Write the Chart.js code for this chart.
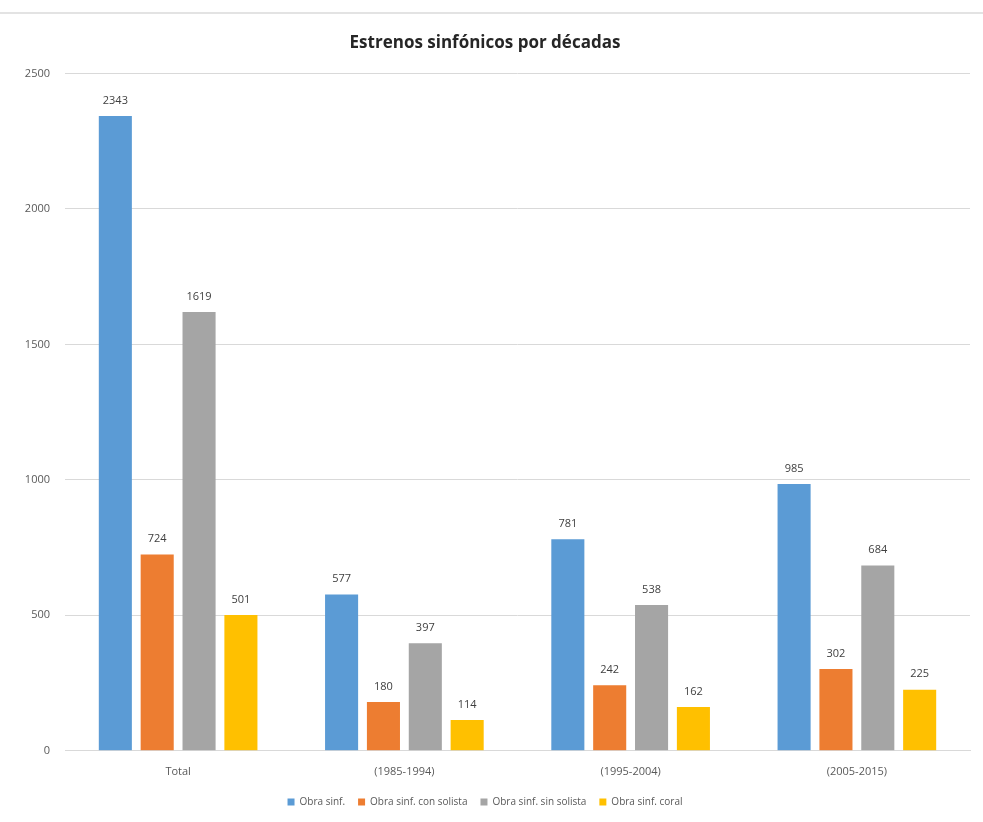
<!DOCTYPE html>
<html>
<head>
<meta charset="utf-8">
<title>Estrenos sinfónicos por décadas</title>
<script src="https://cdn.jsdelivr.net/npm/chart.js@4.4.1/dist/chart.umd.min.js"></script>
<style>
    html, body { margin: 0; padding: 0; background: #fff; }
    #wrap { position: relative; width: 983px; height: 822px; }
    #topLine { position: absolute; left: 0; right: 0; top: 12px; border-top: 2px solid #e3e3e3; }
</style>
</head>
<body>
<div id="wrap">
    <div id="topLine"></div>
    <canvas id="decadasChart" width="983" height="822"></canvas>
</div>
<script>
const periodos = ['Total', '(1985-1994)', '(1995-2004)', '(2005-2015)'];
const obraSinf = [2343, 577, 781, 985];
const obraConSolista = [724, 180, 242, 302];
const obraSinSolista = [1619, 397, 538, 684];
const obraCoral = [501, 114, 162, 225];
const yTicks = [0, 500, 1000, 1500, 2000, 2500];

const FONT = '"Open Sans", "Liberation Sans", sans-serif';

// writes each bar's value just above it
const valueLabels = {
    id: 'valueLabels',
    afterDatasetsDraw(chart) {
        const ctx = chart.ctx;
        ctx.save();
        ctx.font = '11px ' + FONT;
        ctx.fillStyle = '#404040';
        ctx.textAlign = 'center';
        ctx.textBaseline = 'bottom';
        chart.data.datasets.forEach((ds, i) => {
            chart.getDatasetMeta(i).data.forEach((bar, j) => {
                ctx.fillText(ds.data[j], bar.x, bar.y - 10);
            });
        });
        ctx.restore();
    }
};

const ctx = document.getElementById('decadasChart').getContext('2d');
const decadasChart = new Chart(ctx, {
    type: 'bar',
    data: {
        labels: periodos,
        datasets: [
            { label: 'Obra sinf.', data: obraSinf, backgroundColor: '#5b9bd5' },
            { label: 'Obra sinf. con solista', data: obraConSolista, backgroundColor: '#ed7d31' },
            { label: 'Obra sinf. sin solista', data: obraSinSolista, backgroundColor: '#a5a5a5' },
            { label: 'Obra sinf. coral', data: obraCoral, backgroundColor: '#ffc000' }
        ]
    },
    options: {
        responsive: false,
        animation: false,
        categoryPercentage: 0.74,
        barPercentage: 0.79,
        layout: { padding: { left: 0, right: 13, top: 0, bottom: 5 } },
        plugins: {
            title: {
                display: true,
                text: 'Estrenos sinfónicos por décadas',
                color: '#262626',
                font: { family: FONT, size: 17, weight: 'bold' },
                padding: { top: 33, bottom: 20 }
            },
            legend: {
                position: 'bottom',
                labels: {
                    boxWidth: 7,
                    boxHeight: 7,
                    color: '#595959',
                    font: { family: FONT, size: 10 },
                    padding: 13
                }
            },
            tooltip: { enabled: false }
        },
        scales: {
            x: {
                grid: { display: false },
                border: { color: '#d9d9d9' },
                ticks: { color: '#595959', font: { family: FONT, size: 11 }, padding: 6 }
            },
            y: {
                min: 0,
                max: 2500,
                afterBuildTicks(scale) {
                    scale.ticks = yTicks.map(v => ({ value: v }));
                },
                afterFit(scale) { scale.width = 65; },
                grid: { color: '#d9d9d9', drawTicks: false },
                border: { display: false },
                ticks: {
                    color: '#595959',
                    font: { family: FONT, size: 11 },
                    padding: 15,
                    callback: v => String(v)
                }
            }
        }
    },
    plugins: [valueLabels]
});
</script>
</body>
</html>
